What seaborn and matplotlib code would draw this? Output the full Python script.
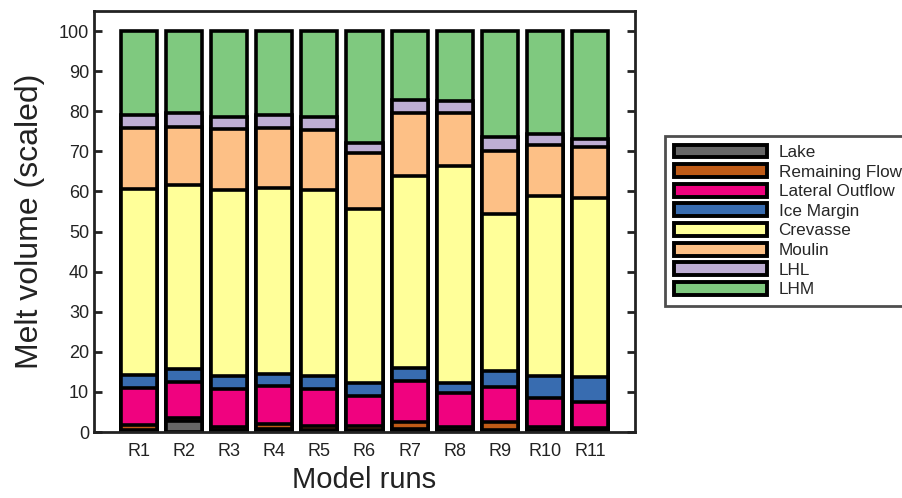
import numpy as np
import pandas as pd
import matplotlib
matplotlib.use("Agg")
import matplotlib.pyplot as plt
from matplotlib.patches import Patch
import seaborn as sns

runs = ["R1", "R2", "R3", "R4", "R5", "R6", "R7", "R8", "R9", "R10", "R11"]
series_names = ["Lake", "Remaining Flow", "Lateral Outflow", "Ice Margin",
                "Crevasse", "Moulin", "LHL", "LHM"]

lake = [0.6, 2.8, 0.5, 0.8, 0.5, 0.6, 0.8, 0.5, 0.6, 0.4, 0.4]
remaining_flow = [1.1, 0.8, 0.8, 1.1, 0.9, 0.8, 1.8, 0.8, 2.0, 0.8, 0.7]
lateral_outflow = [9.3, 8.9, 9.5, 9.6, 9.3, 7.6, 10.2, 8.5, 8.5, 7.4, 6.5]
ice_margin = [3.2, 3.1, 3.2, 2.9, 3.3, 3.1, 3.1, 2.3, 4.2, 5.4, 6.2]
crevasse = [46.4, 46.0, 46.3, 46.5, 46.3, 43.5, 47.9, 54.2, 39.1, 44.8, 44.5]
moulin = [15.1, 14.5, 15.2, 14.8, 15.0, 13.9, 15.7, 13.3, 15.7, 12.8, 12.9]
lhl = [3.3, 3.5, 3.1, 3.3, 3.3, 2.5, 3.3, 2.9, 3.4, 2.6, 2.0]
lhm = [21.0, 20.4, 21.4, 21.0, 21.4, 28.0, 17.2, 17.5, 26.5, 25.8, 26.8]

colors = ["#666666", "#bf5b17", "#f0027f", "#386cb0",
          "#ffff99", "#fdc086", "#beaed4", "#7fc97f"]

series = [lake, remaining_flow, lateral_outflow, ice_margin,
          crevasse, moulin, lhl, lhm]

sns.set_theme(style="white")
plt.rcParams["font.family"] = ["Liberation Sans", "DejaVu Sans"]

fig = plt.figure(figsize=(9.03, 4.98), dpi=100)
ax = fig.add_axes([94 / 903, 66 / 498, (635 - 94) / 903, (432 - 11) / 498])

df = pd.DataFrame({name: vals for name, vals in zip(series_names, series)})
df["run"] = runs
cum = df[series_names].cumsum(axis=1)

# draw cumulative totals from the top series down so each shorter bar overlays
for name, col in zip(reversed(series_names), reversed(colors)):
    sns.barplot(x=runs, y=cum[name].values, color=col, order=runs,
                width=0.8, edgecolor="black", linewidth=2.6,
                saturation=1, errorbar=None, ax=ax)

ax.set_xlim(-1, 11)
ax.set_ylim(0, 105)
ax.set_yticks(np.arange(0, 101, 10))
ax.set_xlabel("Model runs", fontsize=21, color="#222222")
ax.set_ylabel("Melt volume (scaled)", fontsize=23, color="#222222", labelpad=10)
ax.tick_params(axis="y", direction="in", length=6, width=2, left=True,
               right=True, labelsize=13, colors="#222222")
ax.tick_params(axis="x", length=0, labelsize=13, colors="#222222", pad=8)
for sp in ax.spines.values():
    sp.set_visible(True)
    sp.set_linewidth(2)
    sp.set_color("#222222")

handles = [Patch(facecolor=c, edgecolor="black", linewidth=2.8, label=n)
           for n, c in zip(series_names, colors)]
leg = fig.legend(handles=handles, loc="upper left",
                 bbox_to_anchor=(665 / 903, 1 - 136 / 498),
                 fontsize=12.3, handlelength=5.5, handleheight=0.78,
                 labelspacing=0.25, handletextpad=0.65, borderpad=0.5,
                 borderaxespad=0, frameon=True, fancybox=False)
leg.get_frame().set_edgecolor("#222222")
leg.get_frame().set_linewidth(2)

fig.savefig("out.png", dpi=100)
